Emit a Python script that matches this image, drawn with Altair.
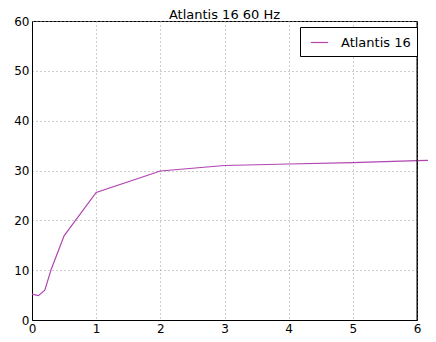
import altair as alt
import pandas as pd

x_vals = [0, 0.1, 0.2, 0.3, 0.5, 1, 2, 3, 4, 5, 6, 7]
y_vals = [5.2, 4.9, 6.0, 10.2, 16.9, 25.6, 29.9, 31.0, 31.3, 31.6, 32.0, 32.1]
series = "Atlantis 16"
title_text = "Atlantis 16 60 Hz"

df = pd.DataFrame({"x": x_vals, "y": y_vals, "s": [series] * len(x_vals)})

font = "DejaVu Sans"

base = alt.Chart(df)

line = base.mark_line(clip=False, strokeWidth=1.2).encode(
    x=alt.X("x:Q", scale=alt.Scale(domain=[0, 6], nice=False),
            axis=alt.Axis(values=[0, 1, 2, 3, 4, 5, 6], format="d", title=None,
                          grid=True, gridDash=[1, 3], gridColor="#9a9a9a",
                          domainColor="black", tickColor="black", tickSize=0,
                          labelFontSize=12, labelFont=font, labelColor="black",
                          labelPadding=3, labelFlush=False)),
    y=alt.Y("y:Q", scale=alt.Scale(domain=[0, 60], nice=False),
            axis=alt.Axis(values=[0, 10, 20, 30, 40, 50, 60], title=None,
                          grid=True, gridDash=[1, 3], gridColor="#9a9a9a",
                          domainColor="black", tickColor="black", tickSize=0,
                          labelFontSize=12, labelFont=font, labelColor="black",
                          labelPadding=3)),
    color=alt.Color("s:N", scale=alt.Scale(domain=[series], range=["#b044b0"]),
                    legend=alt.Legend(title=None, orient="none", legendX=268, legendY=6,
                                      symbolType="stroke", symbolSize=300,
                                      symbolStrokeWidth=1.2,
                                      labelFontSize=13, labelFont=font,
                                      labelColor="black",
                                      strokeColor="black", fillColor="white",
                                      padding=6, symbolOffset=4, labelOffset=12,
                                      cornerRadius=0)),
)

spine = alt.Chart(pd.DataFrame({"v": [6]})).mark_rule(color="black", strokeWidth=1).encode(
    x=alt.X("v:Q"),
)

title = alt.Chart(pd.DataFrame({"t": [title_text]})).mark_text(
    font=font, fontSize=13, color="black", align="center", baseline="middle"
).encode(
    text="t:N", x=alt.value(192.5), y=alt.value(-6),
)

chart = alt.layer(line, spine, title).properties(
    width=385, height=299,
    autosize=alt.AutoSizeParams(type="none"),
    padding={"left": 24, "top": 13, "right": 11, "bottom": 14},
).configure_view(stroke="black", strokeWidth=1)

chart.save("out.html", embed_options={"renderer": "svg", "actions": False})
